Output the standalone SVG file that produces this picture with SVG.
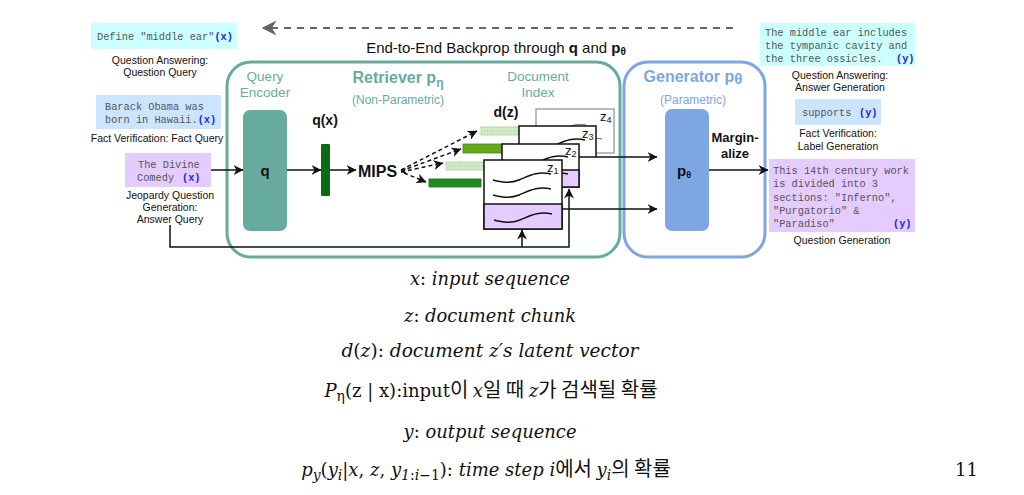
<svg xmlns="http://www.w3.org/2000/svg" width="1024" height="495" viewBox="0 0 1024 495">
<style>
.sans{font-family:"Liberation Sans",Arial,sans-serif}
.lbl{font-family:"Liberation Sans",Arial,sans-serif;font-size:10.5px;fill:#111;text-anchor:middle}
.mono{font-family:"Liberation Mono","Courier New",monospace;font-size:10.3px;fill:#555}
.tag{font-weight:bold;fill:#1f1fe0}
.teal{fill:#67AB9F}
.blue{fill:#7EA6E0}
.b{font-weight:bold}
.math{font-family:"DejaVu Serif","Liberation Serif",serif;font-size:18px;fill:#111}
.it{font-style:italic}
.kr{font-family:"Noto Sans CJK KR",sans-serif;font-size:20px;font-style:normal}
.doc{fill:#fff;stroke:#111;stroke-width:1.5}
.wave{fill:none;stroke:#111;stroke-width:1.5}
.wavel{fill:none;stroke:#555;stroke-width:0.9}
.zl{font-family:"Liberation Sans",Arial,sans-serif;font-size:13px;fill:#111}
.ln{fill:none;stroke:#111;stroke-width:1.5}
.dash{fill:none;stroke:#111;stroke-width:1.5;stroke-dasharray:4 3}
</style>
<defs>
<marker id="arr" viewBox="0 0 10 10" refX="9.5" refY="5" markerWidth="10" markerHeight="10" markerUnits="userSpaceOnUse" orient="auto"><path d="M0,0 L10,5 L0,10 L3,5 z" fill="#111"/></marker>
<marker id="arrs" viewBox="0 0 10 10" refX="9.5" refY="5" markerWidth="6" markerHeight="6" markerUnits="userSpaceOnUse" orient="auto-start-reverse"><path d="M0,0 L10,5 L0,10 L3,5 z" fill="#111"/></marker>
<marker id="arrg" viewBox="0 0 10 10" refX="9" refY="5" markerWidth="15" markerHeight="15" markerUnits="userSpaceOnUse" orient="auto"><path d="M0,0 L10,5 L0,10 L3,5 z" fill="#666"/></marker>
<path id="wv" d="M0,2 C8,4 16,6 26,2 S44,-7 58,-4"/>
<path id="wvs" d="M0,2 C6,3 12,4 18,1 S31,-5 40,-3"/>
</defs>
<rect width="1024" height="495" fill="#fff"/>

<!-- backprop -->
<g id="backprop">
<line x1="733" y1="28" x2="263" y2="28" stroke="#666" stroke-width="2" stroke-dasharray="7 6" marker-end="url(#arrg)"/>
<text x="496" y="53" text-anchor="middle" class="sans" font-size="15" fill="#111">End-to-End Backprop through <tspan class="b">q</tspan> and <tspan class="b">p</tspan><tspan class="b" font-size="10" dy="2">θ</tspan></text>
</g>

<!-- containers -->
<g id="retriever">
<rect x="227" y="62" width="393" height="195" rx="24" fill="none" stroke="#67AB9F" stroke-width="3"/>
<text x="398" y="83" text-anchor="middle" class="sans b teal" font-size="16">Retriever p<tspan font-size="12" dy="4">η</tspan></text>
<text x="398" y="104" text-anchor="middle" class="sans teal" font-size="12">(Non-Parametric)</text>
</g>
<g id="generator">
<rect x="624" y="62" width="141" height="195" rx="24" fill="none" stroke="#7EA6E0" stroke-width="3"/>
<text x="693" y="82" text-anchor="middle" class="sans b blue" font-size="16">Generator p<tspan font-size="15" dy="2">θ</tspan></text>
<text x="693" y="104" text-anchor="middle" class="sans blue" font-size="12">(Parametric)</text>
</g>

<!-- left inputs -->
<g id="in-qa">
<rect x="91" y="23" width="146" height="26" fill="#CCFFFF"/>
<text x="97" y="39.5" class="mono">Define "middle ear"<tspan class="tag">(x)</tspan></text>
<text x="160" y="64" class="lbl">Question Answering:</text>
<text x="160" y="76" class="lbl">Question Query</text>
</g>
<g id="in-fv">
<rect x="96" y="95" width="125" height="34" fill="#CCE5FF"/>
<text x="105" y="110" class="mono">Barack Obama was</text>
<text x="105" y="123" class="mono">born in Hawaii.<tspan class="tag">(x)</tspan></text>
<text x="157" y="142" class="lbl">Fact Verification: Fact Query</text>
</g>
<g id="in-jq">
<rect x="125" y="153" width="86" height="34" fill="#E5CCFF"/>
<text x="138" y="168" class="mono">The Divine</text>
<text x="137" y="181" class="mono">Comedy <tspan x="182" class="tag">(x)</tspan></text>
<text x="170" y="199" class="lbl">Jeopardy Question</text>
<text x="170" y="211" class="lbl">Generation:</text>
<text x="170" y="223" class="lbl">Answer Query</text>
</g>

<!-- query encoder -->
<g id="query-encoder">
<text x="265" y="81" text-anchor="middle" class="sans teal" font-size="13.5">Query</text>
<text x="265" y="97" text-anchor="middle" class="sans teal" font-size="13.5">Encoder</text>
<rect x="243" y="110" width="44" height="121" rx="7" fill="#67AB9F"/>
<text x="265" y="176" text-anchor="middle" class="sans b" font-size="15" fill="#111">q</text>
</g>
<g id="qx">
<text x="325" y="125" text-anchor="middle" class="sans b" font-size="14" fill="#111">q(x)</text>
<rect x="321" y="144" width="9" height="52" rx="1" fill="#0b6b12"/>
</g>
<g id="mips">
<text x="358" y="177" class="sans b" font-size="16" fill="#111">MIPS</text>
</g>

<!-- d(z) bars -->
<g id="dz">
<text x="506" y="117" text-anchor="middle" class="sans b" font-size="14" fill="#111">d(z)</text>
<rect x="481" y="127" width="40" height="8" fill="#d3e9c5" stroke="#a9d18e" stroke-width="0.8"/>
<line x1="484" y1="131" x2="518" y2="131" stroke="#9cc77f" stroke-width="1" stroke-dasharray="1 2"/>
<rect x="463" y="144" width="42" height="9" fill="#60A917" stroke="#4d8a12" stroke-width="0.8"/>
<rect x="446" y="162" width="42" height="8" fill="#d3e9c5" stroke="#a9d18e" stroke-width="0.8"/>
<line x1="449" y1="166" x2="486" y2="166" stroke="#9cc77f" stroke-width="1" stroke-dasharray="1 2"/>
<rect x="429" y="179" width="52" height="8" fill="#1f8a1f" stroke="#167016" stroke-width="0.8"/>
</g>

<!-- document index -->
<g id="document-index">
<text x="538" y="81" text-anchor="middle" class="sans teal" font-size="13.5">Document</text>
<text x="538" y="97" text-anchor="middle" class="sans teal" font-size="13.5">Index</text>
</g>
<g id="doc-z4">
<rect x="536" y="109" width="78" height="44" fill="#fff" stroke="#777" stroke-width="1"/>
<use href="#wvs" class="wavel" x="546" y="128"/>
<use href="#wvs" class="wavel" x="562" y="142"/>
<text x="600" y="121" class="zl">z<tspan font-size="9" dy="2">4</tspan></text>
</g>
<g id="doc-z3">
<rect x="519" y="126" width="77" height="31" class="doc"/>
<use href="#wv" class="wave" x="527" y="144"/>
<text x="582" y="138" class="zl">z<tspan font-size="9" dy="2">3</tspan></text>
</g>
<g id="doc-z2">
<rect x="502" y="144" width="77" height="43" class="doc"/>
<rect x="502" y="170" width="77" height="17" fill="#E5CCFF" stroke="#111" stroke-width="1.5"/>
<use href="#wv" class="wave" x="510" y="161"/>
<use href="#wv" class="wave" x="510" y="178"/>
<text x="565" y="155" class="zl">z<tspan font-size="9" dy="2">2</tspan></text>
</g>
<g id="doc-z1">
<rect x="484" y="160" width="78" height="69" class="doc"/>
<rect x="484" y="204" width="78" height="25" fill="#E5CCFF" stroke="#111" stroke-width="1.5"/>
<use href="#wv" class="wave" x="493" y="178"/>
<use href="#wv" class="wave" x="493" y="193"/>
<use href="#wv" class="wave" x="494" y="218"/>
<text x="547" y="172" class="zl">z<tspan font-size="9" dy="2">1</tspan></text>
</g>

<!-- generator inner -->
<g id="p-theta">
<rect x="665" y="109" width="44" height="122" rx="7" fill="#7EA6E0"/>
<text x="684" y="176" text-anchor="middle" class="sans b" font-size="15" fill="#111">p<tspan font-size="9" dy="2">θ</tspan></text>
</g>
<g id="marginalize">
<text x="735" y="142" text-anchor="middle" class="sans b" font-size="13" fill="#111">Margin-</text>
<text x="735" y="158" text-anchor="middle" class="sans b" font-size="13" fill="#111">alize</text>
</g>

<!-- right outputs -->
<g id="out-qa">
<rect x="760" y="23" width="155" height="43" fill="#CCFFFF"/>
<text x="765" y="36" class="mono">The middle ear includes</text>
<text x="765" y="49" class="mono">the tympanic cavity and</text>
<text x="765" y="62" class="mono">the three ossicles.<tspan x="896" class="tag">(y)</tspan></text>
<text x="840" y="79" class="lbl">Question Answering:</text>
<text x="840" y="91" class="lbl">Answer Generation</text>
</g>
<g id="out-fv">
<rect x="795" y="99" width="86" height="26" fill="#CCE5FF"/>
<text x="802" y="116" class="mono">supports<tspan x="859" class="tag">(y)</tspan></text>
<text x="838" y="137" class="lbl">Fact Verification:</text>
<text x="838" y="150" class="lbl">Label Generation</text>
</g>
<g id="out-jq">
<rect x="769" y="159" width="146" height="73" fill="#E5CCFF"/>
<text x="773" y="174" class="mono">This 14th century work</text>
<text x="773" y="187" class="mono">is divided into 3</text>
<text x="773" y="201" class="mono">sections: "Inferno",</text>
<text x="773" y="214" class="mono">"Purgatorio" &amp;</text>
<text x="773" y="227" class="mono">"Paradiso"<tspan x="893" class="tag">(y)</tspan></text>
<text x="842" y="244" class="lbl">Question Generation</text>
</g>

<!-- connectors -->
<g id="connectors">
<line x1="211" y1="170" x2="243" y2="170" class="ln" marker-end="url(#arr)"/>
<line x1="287" y1="170" x2="321" y2="170" class="ln" marker-end="url(#arr)"/>
<line x1="330" y1="170" x2="356" y2="170" class="ln" marker-end="url(#arr)"/>
<line x1="401" y1="170" x2="477" y2="131" class="dash" marker-end="url(#arr)"/>
<line x1="401" y1="171" x2="461" y2="149" class="dash" marker-end="url(#arr)"/>
<line x1="401" y1="172" x2="443" y2="163" class="dash" marker-start="url(#arrs)" marker-end="url(#arr)"/>
<line x1="404" y1="173" x2="426" y2="182" class="dash" marker-end="url(#arr)"/>
<line x1="596" y1="157" x2="657" y2="157" class="ln" marker-end="url(#arr)"/>
<line x1="562" y1="209" x2="657" y2="209" class="ln" marker-end="url(#arr)"/>
<polyline points="170,225 170,247 569,247 569,189" class="ln" marker-end="url(#arr)"/>
<line x1="522" y1="247" x2="522" y2="230" class="ln" marker-end="url(#arr)"/>
<line x1="709" y1="170" x2="768" y2="170" class="ln" marker-end="url(#arr)"/>
</g>

<!-- notation -->
<g id="notation">
<text x="490" y="285" text-anchor="middle" class="math" textLength="160" lengthAdjust="spacingAndGlyphs"><tspan class="it">x</tspan>: <tspan class="it">input sequence</tspan></text>
<text x="490" y="322" text-anchor="middle" class="math" textLength="172" lengthAdjust="spacingAndGlyphs"><tspan class="it">z</tspan>: <tspan class="it">document chunk</tspan></text>
<text x="490" y="357" text-anchor="middle" class="math" textLength="297" lengthAdjust="spacingAndGlyphs"><tspan class="it">d</tspan>(<tspan class="it">z</tspan>): <tspan class="it">document z′s latent vector</tspan></text>
<text x="491" y="397" text-anchor="middle" class="math" font-size="19"><tspan class="it">P</tspan><tspan font-size="14" dy="4">η</tspan><tspan dy="-4">(z | x):input</tspan><tspan class="kr">이 </tspan><tspan class="it">x</tspan><tspan class="kr">일 때 </tspan><tspan class="it">z</tspan><tspan class="kr">가 검색될 확률</tspan></text>
<text x="490" y="438" text-anchor="middle" class="math" textLength="173" lengthAdjust="spacingAndGlyphs"><tspan class="it">y</tspan>: <tspan class="it">output sequence</tspan></text>
<text x="486" y="476" text-anchor="middle" class="math" font-size="19"><tspan class="it">p</tspan><tspan class="it" font-size="14" dy="4">y</tspan><tspan dy="-4">(</tspan><tspan class="it">y</tspan><tspan class="it" font-size="14" dy="4">i</tspan><tspan dy="-4">|</tspan><tspan class="it">x</tspan>, <tspan class="it">z</tspan>, <tspan class="it">y</tspan><tspan font-size="14" dy="4"><tspan class="it">1</tspan>:<tspan class="it">i</tspan>−1</tspan><tspan dy="-4">): </tspan><tspan class="it">time step i</tspan><tspan class="kr">에서 </tspan><tspan class="it">y</tspan><tspan class="it" font-size="14" dy="4">i</tspan><tspan class="kr" dy="-4">의 확률</tspan></text>
<text x="955" y="476" class="math" font-family="Liberation Serif,serif">11</text>
</g>
</svg>
